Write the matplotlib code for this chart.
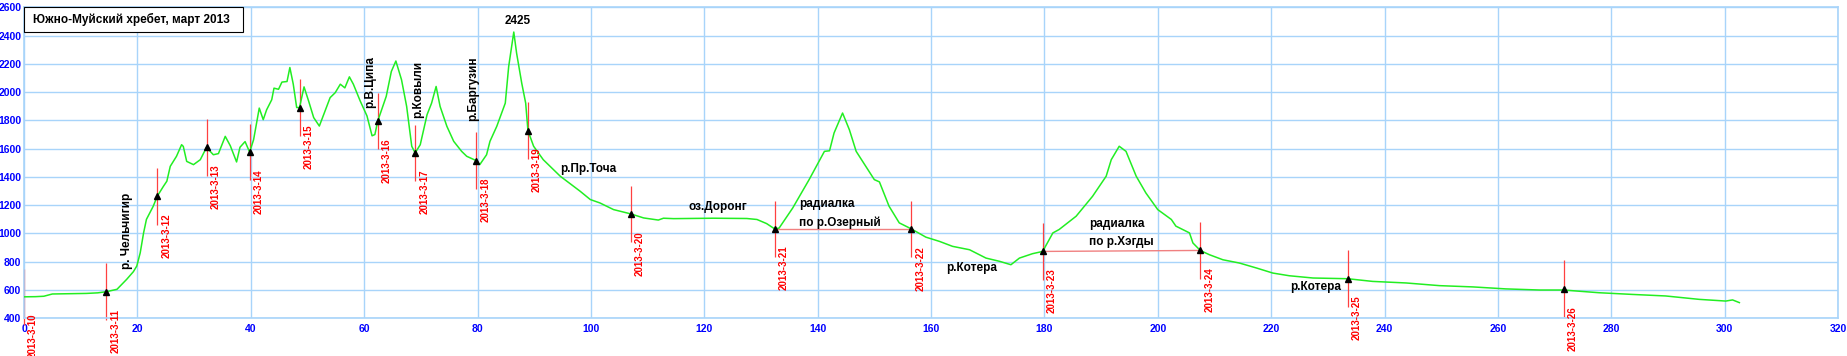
import matplotlib
matplotlib.use("Agg")
import matplotlib.pyplot as plt
from matplotlib.patches import Rectangle

plt.rcParams['font.family'] = ['Liberation Sans', 'DejaVu Sans']

# elevation profile (km along route, metres)
dist = [0, 2, 3.5, 5, 8, 11, 13, 14.5, 16.4, 18.1, 19.3, 19.9, 20.5, 21.1, 21.6,
        22.8, 23.5, 24.6, 25.2, 25.8, 26.9, 27.8, 28.1, 28.7, 29.9, 31.1, 32.2,
        33.4, 34.3, 35.5, 36.4, 37.5, 38.1, 39, 39.8, 40.5, 41.5, 42.2, 42.8,
        43.7, 44.1, 44.9, 45.5, 46.4, 46.9, 47.5, 48.1, 48.6, 49.4, 50.2, 51.1,
        52.1, 53.1, 54, 54.9, 55.8, 56.6, 57.4, 58.1, 59.3, 60.5, 61.4, 61.9,
        62.4, 63.9, 64.8, 65.6, 66.6, 67.5, 68.4, 69, 69.9, 71.1, 71.9, 72.7,
        73.4, 74.6, 75.8, 77.2, 78.1, 79.8, 80.4, 81.6, 82.2, 83.4, 84.9, 85.5,
        86.4, 86.9, 87.8, 88.5, 88.9, 89.9, 91.6, 94.6, 98.1, 99.9, 101.6, 104,
        107.1, 109.3, 111.9, 112.8, 114.6, 121.6, 127.5, 129.3, 131, 132.4,
        133.2, 135.6, 138.5, 141.2, 142.1, 142.9, 144.4, 145.6, 146.8, 148.5,
        150, 150.9, 152.6, 154.4, 156.5, 159.1, 161.5, 163.8, 166.8, 169.7,
        172.1, 174.1, 175.6, 177.9, 179.7, 181.5, 182.6, 185.6, 188.5, 190.9,
        191.8, 193.2, 194.4, 196.2, 197.9, 200, 202.4, 203.2, 205.6, 206.2,
        207.5, 209.1, 211.5, 214.4, 217.4, 220.3, 223.2, 227.4, 233.5, 237.9,
        243.8, 249.7, 255.6, 261.4, 267.4, 271.6, 277.8, 283.7, 289.6, 295.5,
        300.2, 301.4, 302.6]
elev = [552, 553, 556, 572, 574, 576, 580, 588, 605, 675, 730, 770, 863, 1005, 1100,
        1193, 1263, 1334, 1370, 1475, 1546, 1628, 1616, 1510, 1487, 1522, 1609,
        1557, 1565, 1687, 1620, 1506, 1610, 1650, 1576, 1663, 1887, 1805, 1875,
        1946, 2028, 2020, 2071, 2075, 2174, 2056, 1891, 1891, 2037, 1938, 1820,
        1760, 1866, 1961, 1996, 2056, 2030, 2108, 2056, 1938, 1832, 1691, 1700,
        1795, 1970, 2146, 2220, 2087, 1899, 1617, 1570, 1628, 1840, 1922, 2040,
        1899, 1758, 1652, 1581, 1546, 1515, 1487, 1557, 1652, 1758, 1922, 2181,
        2425, 2275, 2064, 1922, 1727, 1617, 1522, 1405, 1299, 1240, 1216, 1169,
        1138, 1110, 1095, 1108, 1105, 1108, 1106, 1099, 1070, 1033,
        1038, 1180, 1381, 1581, 1585, 1711, 1852, 1734, 1581, 1475,
        1381, 1365, 1193, 1075, 1033, 974, 944, 909, 885, 826,
        803, 779, 826, 857, 873, 1004, 1028, 1122, 1263, 1405,
        1522, 1617, 1581, 1405, 1287, 1169, 1099, 1052, 1004, 933,
        880, 850, 814, 791, 756, 720, 701, 685, 680, 661,
        650, 631, 622, 608, 600, 600, 581, 569, 558, 534,
        522, 530, 511]

# overnight camps
camp_dates = ["2013-3-10", "2013-3-11", "2013-3-12", "2013-3-13", "2013-3-14",
              "2013-3-15", "2013-3-16", "2013-3-17", "2013-3-18", "2013-3-19",
              "2013-3-20", "2013-3-21", "2013-3-22", "2013-3-23", "2013-3-24",
              "2013-3-25", "2013-3-26"]
camp_x = [0, 14.5, 23.5, 32.2, 39.8, 48.6, 62.4, 69.0, 79.8, 88.9, 107.1, 132.4,
          156.5, 179.7, 207.5, 233.5, 271.6]
camp_y = [552, 588, 1263, 1609, 1576, 1891, 1795, 1570, 1515, 1727, 1138, 1033,
          1033, 873, 880, 680, 609]

# place names
vert_names = ["р. Чельчигир", "р.В.Ципа", "р.Ковыли", "р.Баргузин"]
vert_x = [18.1, 61.1, 69.6, 79.2]
vert_y = [750, 1888, 1817, 1797]
horiz_names = ["2425", "р.Пр.Точа", "оз.Доронг", "радиалка\nпо р.Озерный",
               "р.Котера", "радиалка\nпо р.Хэгды", "р.Котера"]
horiz_x = [87.1, 94.6, 117.2, 136.8, 162.6, 187.9, 223.4]
horiz_y = [2503, 1454, 1185, 1142, 754, 1003, 619]
horiz_ha = ["center", "left", "left", "left", "left", "left", "left"]

# radial trips (start camp, end camp)
radial = [(11, 12), (13, 14)]

fig = plt.figure(figsize=(18.47, 3.56), dpi=100)
ax = fig.add_axes([24 / 1847, 1 - 318.3 / 356, 1814 / 1847, 311 / 356])

grid_c = "#a8d4fa"
ax.set_xlim(0, 320)
ax.set_ylim(400, 2600)
ax.set_xticks(range(0, 321, 20))
ax.set_yticks(range(400, 2601, 200))
ax.grid(True, color=grid_c, lw=1.0)
ax.set_axisbelow(True)
for s in ax.spines.values():
    s.set_color(grid_c)
    s.set_linewidth(1.2)
ax.tick_params(length=0, labelsize=7.5, labelcolor="#0000ff")
ax.tick_params(axis="y", pad=2)
ax.tick_params(axis="x", pad=4)
for lab in ax.get_xticklabels() + ax.get_yticklabels():
    lab.set_fontweight("bold")

ax.plot(dist, elev, color="#22ee22", lw=1.1, zorder=3)

for a, b in radial:
    ax.plot([camp_x[a], camp_x[b]], [camp_y[a], camp_y[b]], color="#f08080",
            lw=1.0, zorder=2)

for i, (cx, cy, d) in enumerate(zip(camp_x, camp_y, camp_dates)):
    ax.vlines(cx, cy - 200, cy + 200, color="#ff4040", lw=0.9, zorder=2,
              clip_on=False)
    if i > 0:
        ax.plot(cx, cy, marker="^", color="black", ms=4, zorder=4)
    ax.annotate(d, (cx, cy), xytext=(9, -17), textcoords="offset pixels",
                rotation=90, ha="center", va="top", color="red", fontsize=7,
                fontweight="bold", annotation_clip=False, zorder=5)

for t, x, y in zip(vert_names, vert_x, vert_y):
    ax.text(x, y, t, rotation=90, ha="center", va="bottom", fontsize=8.5,
            fontweight="bold", color="black", zorder=5)
for t, x, y, h in zip(horiz_names, horiz_x, horiz_y, horiz_ha):
    ax.text(x, y, t, ha=h, va="center", fontsize=8.5, fontweight="bold",
            color="black", linespacing=1.6, zorder=5)

ax.add_patch(Rectangle((0, 0.9196), 0.1206, 0.082, transform=ax.transAxes,
                       facecolor="white", edgecolor="black", lw=0.8,
                       zorder=6, clip_on=False))
ax.text(0.005, 0.961, "Южно-Муйский хребет, март 2013", transform=ax.transAxes,
        ha="left", va="center", fontsize=8.5, fontweight="bold", zorder=7)

fig.savefig("out.png", dpi=100)
